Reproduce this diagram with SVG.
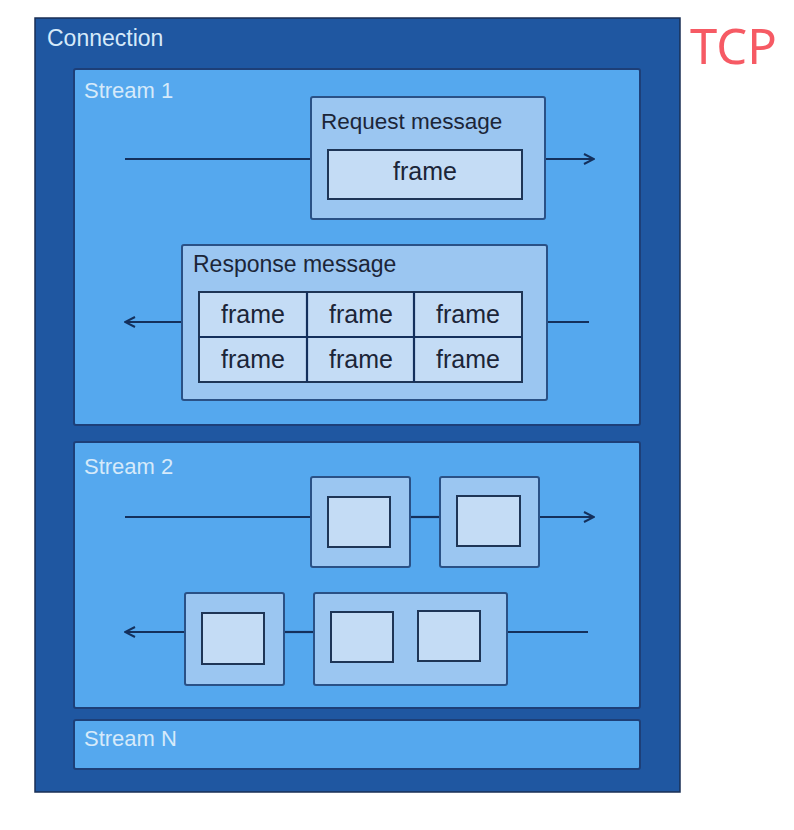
<svg xmlns="http://www.w3.org/2000/svg" width="794" height="830" viewBox="0 0 794 830">
<defs>
<style>
.conn{fill:#1f57a1;stroke:#1a2f55;stroke-width:1.5}
.stream{fill:#55a8ee;stroke:#1d3f78;stroke-width:2}
.msg{fill:#9bc6f1;stroke:#2a5186;stroke-width:2}
.frm{fill:#c4dcf5;stroke:#1e3556;stroke-width:2}
.lbl{font-family:"Liberation Sans",Arial,sans-serif;fill:#d6eafa}
.dark{font-family:"Liberation Sans",Arial,sans-serif;fill:#1b2538}
.line{stroke:#14305c;stroke-width:2.2;fill:none}
</style>
<marker id="ah" viewBox="0 0 12 12" refX="11" refY="6" markerWidth="12" markerHeight="12" markerUnits="userSpaceOnUse" orient="auto-start-reverse">
<path d="M1,1 L11,6 L1,11" fill="none" stroke="#14305c" stroke-width="2"/>
</marker>
</defs>
<rect width="794" height="830" fill="#ffffff"/>
<g id="connection">
<rect class="conn" x="35" y="18" width="645" height="774"/>
<text class="lbl" x="47" y="46" font-size="23">Connection</text>
</g>
<g id="tcp"><text x="690" y="64" font-family="'Noto Sans',sans-serif" font-size="49" fill="#f65a64">TCP</text></g>
<g id="stream1">
<rect class="stream" x="74" y="69" width="566" height="356" rx="2"/>
<text class="lbl" x="84" y="98" font-size="22">Stream 1</text>
</g>
<g id="stream2">
<rect class="stream" x="74" y="442" width="566" height="266" rx="2"/>
<text class="lbl" x="84" y="474" font-size="22">Stream 2</text>
</g>
<g id="streamN">
<rect class="stream" x="74" y="720" width="566" height="49" rx="2"/>
<text class="lbl" x="84" y="746" font-size="22">Stream N</text>
</g>
<g id="connectors">
<line class="line" x1="125" y1="159" x2="311" y2="159"/>
<line class="line" x1="545" y1="159" x2="594" y2="159" marker-end="url(#ah)"/>
<line class="line" x1="182" y1="322" x2="125" y2="322" marker-end="url(#ah)"/>
<line class="line" x1="547" y1="322" x2="589" y2="322"/>
<line class="line" x1="125" y1="517" x2="311" y2="517"/>
<line class="line" x1="410" y1="517" x2="440" y2="517"/>
<line class="line" x1="539" y1="517" x2="594" y2="517" marker-end="url(#ah)"/>
<line class="line" x1="185" y1="632" x2="125" y2="632" marker-end="url(#ah)"/>
<line class="line" x1="284" y1="632" x2="314" y2="632"/>
<line class="line" x1="507" y1="632" x2="588" y2="632"/>
</g>
<g id="request">
<rect class="msg" x="311" y="97" width="234" height="122" rx="2"/>
<text class="dark" x="321" y="129" font-size="22.5">Request message</text>
<rect class="frm" x="328" y="150" width="194" height="49"/>
<text class="dark" x="425" y="180" font-size="25" text-anchor="middle">frame</text>
</g>
<g id="response">
<rect class="msg" x="182" y="245" width="365" height="155" rx="2"/>
<text class="dark" x="193" y="272" font-size="23">Response message</text>
<rect class="frm" x="199" y="292" width="323" height="90"/>
<line class="line" x1="199" y1="337" x2="522" y2="337" stroke-width="2"/>
<line class="line" x1="307" y1="292" x2="307" y2="382" stroke-width="2"/>
<line class="line" x1="414" y1="292" x2="414" y2="382" stroke-width="2"/>
<text class="dark" font-size="25" text-anchor="middle">
<tspan x="253" y="323">frame</tspan><tspan x="361" y="323">frame</tspan><tspan x="468" y="323">frame</tspan>
</text>
<text class="dark" font-size="25" text-anchor="middle">
<tspan x="253" y="368">frame</tspan><tspan x="361" y="368">frame</tspan><tspan x="468" y="368">frame</tspan>
</text>
</g>
<g id="s2msg1">
<rect class="msg" x="311" y="477" width="99" height="90" rx="2"/>
<rect class="frm" x="328" y="497" width="62" height="50"/>
</g>
<g id="s2msg2">
<rect class="msg" x="440" y="477" width="99" height="90" rx="2"/>
<rect class="frm" x="457" y="496" width="63" height="50"/>
</g>
<g id="s2msg3">
<rect class="msg" x="185" y="593" width="99" height="92" rx="2"/>
<rect class="frm" x="202" y="613" width="62" height="51"/>
</g>
<g id="s2msg4">
<rect class="msg" x="314" y="593" width="193" height="92" rx="2"/>
<rect class="frm" x="331" y="612" width="62" height="50"/>
<rect class="frm" x="418" y="611" width="62" height="50"/>
</g>
</svg>
